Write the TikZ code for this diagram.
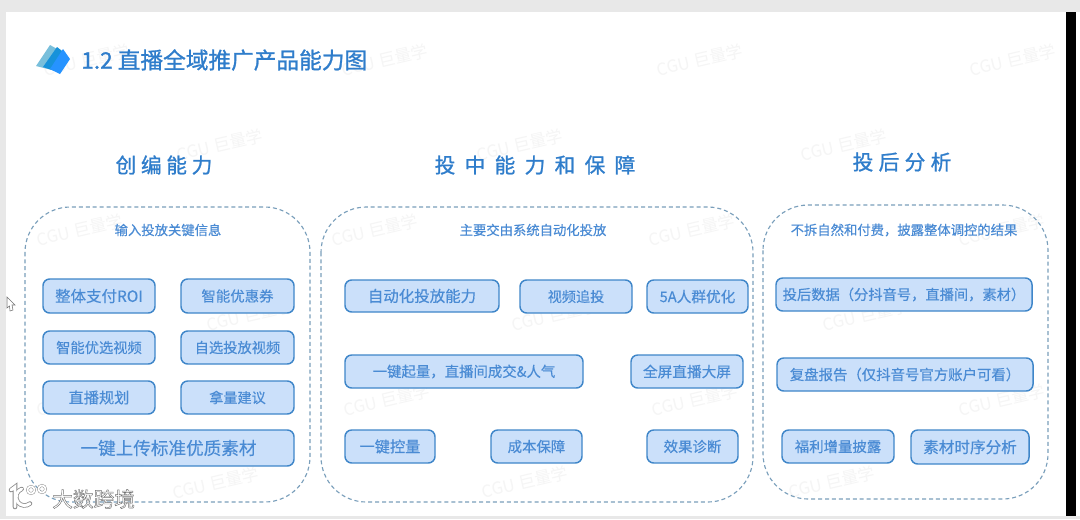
\documentclass[tikz,border=0pt]{standalone}
\usepackage{fontspec}
\setmainfont{Noto Sans CJK SC}[FakeBold=0.35]
\newfontfamily\wmfont{Noto Sans CJK SC}
\newfontfamily\strongfont{Noto Sans CJK SC}[FakeBold=1.1]
\newfontfamily\cornerfont{Noto Sans CJK SC}[FakeBold=2.2]
\definecolor{tcol}{HTML}{2F7DCB}
\definecolor{bfill}{HTML}{CBE0FA}
\definecolor{bline}{HTML}{3F86C9}
\definecolor{dashc}{HTML}{7A9FBB}
\definecolor{btext}{HTML}{4A8BD4}
\newcommand{\wm}[2]{\node[wmark] at (#1,-#2) {CGU 巨量学};}
\tikzset{
 x=0.75pt,y=0.75pt,
 wmark/.style={text=black!4,font=\wmfont\fontsize{12.5}{14}\selectfont,rotate=13,inner sep=0},
 capbox/.style={draw=bline,fill=bfill,line width=1.1pt,rounded corners=5pt},
 panel/.style={draw=dashc,line width=0.85pt,dash pattern=on 3pt off 2.2pt,rounded corners=34pt},
 headtxt/.style={text=tcol,font=\strongfont\fontsize{15.5}{18}\selectfont,inner sep=0},
 subtxt/.style={text=btext,font=\fontsize{10}{12}\selectfont,inner sep=0}
}
% name, x1, y1, x2, y2, font size, text
\newcommand{\cbox}[7]{\path[capbox] (#2,-#3) rectangle (#4,-#5) node[pos=.5,inner sep=0,text=btext,font=\fontsize{#6}{#6}\selectfont] (#1) {#7};}
\begin{document}
\begin{tikzpicture}
\useasboundingbox (0,0) rectangle (1080,-519);
\fill[black!9] (0,0) rectangle (1080,-519);
\fill[white] (1076,-12) rectangle (1080,-516);
\fill[black] (1066,-12) rectangle (1076,-516);
\fill[white] (6,-12) rectangle (1066,-516);
% watermarks
\wm{87}{60}\wm{385}{60}\wm{700}{60}\wm{1013}{60}
\wm{220}{145}\wm{520}{145}\wm{844}{145}
\wm{80}{230}\wm{375}{230}\wm{692}{230}\wm{1002}{230}
\wm{250}{315}\wm{555}{315}\wm{866}{315}
\wm{80}{400}\wm{387}{400}\wm{695}{400}\wm{1002}{400}
\wm{216}{483}\wm{525}{482}\wm{832}{482}
% cursor
\draw[black!55,fill=white,line width=0.4pt] (7,-297) -- (15,-305) -- (12,-305) -- (13,-310) -- (10,-311) -- (9.5,-306) -- (7,-308) -- cycle;
% logo
\fill[cyan!55!teal!60] (36,-66) -- (50,-45) -- (59,-50) -- (52,-70) -- cycle;
\fill[cyan!75!blue!95] (43,-67) -- (57,-47) -- (66,-54) -- (55,-71) -- cycle;
\fill[blue!50!cyan!85] (50,-69) -- (63,-49) -- (70,-59) -- (60,-74) -- cycle;
\node[anchor=west,inner sep=0,text=tcol,font=\strongfont\fontsize{17}{20}\selectfont] (title) at (81,-60) {1.2 直播全域推广产品能力图};
% headers
\node[headtxt] (h1) at (164,-165) {创\hspace{3.5pt}编\hspace{3.5pt}能\hspace{3.5pt}力};
\node[headtxt] (h2) at (535,-165) {投\hspace{7pt}中\hspace{7pt}能\hspace{7pt}力\hspace{7pt}和\hspace{7pt}保\hspace{7pt}障};
\node[headtxt] (h3) at (902,-162) {投\hspace{4pt}后\hspace{4pt}分\hspace{4pt}析};
% panels
\draw[panel] (25,-207) rectangle (310,-502);
\draw[panel] (321,-207) rectangle (753,-502);
\draw[panel] (763,-205) rectangle (1048,-499);
\node[subtxt] (s1) at (168,-230) {输入投放关键信息};
\node[subtxt] (s2) at (533,-230) {主要交由系统自动化投放};
\node[subtxt] (s3) at (904,-230) {不拆自然和付费，披露整体调控的结果};
% left
\cbox{a1}{43}{279}{155}{313}{11.6}{整体支付ROI}
\cbox{a2}{181}{279}{294}{313}{10.8}{智能优惠券}
\cbox{a3}{43}{331}{155}{364}{10.7}{智能优选视频}
\cbox{a4}{181}{331}{294}{364}{10.7}{自选投放视频}
\cbox{a5}{43}{381}{155}{414}{11.4}{直播规划}
\cbox{a6}{181}{381}{294}{414}{10.6}{拿量建议}
\cbox{a7}{43}{430}{294}{466}{13.2}{一键上传标准优质素材}
% middle
\cbox{b1}{345}{280}{499}{312}{11.6}{自动化投放能力}
\cbox{b2}{520}{280}{632}{313}{10.6}{视频追投}
\cbox{b3}{647}{280}{748}{313}{11}{5A人群优化}
\cbox{b4}{345}{355}{583}{388}{10.8}{一键起量，直播间成交\&人气}
\cbox{b5}{631}{355}{743}{388}{11}{全屏直播大屏}
\cbox{b6}{345}{430}{435}{463}{11.4}{一键控量}
\cbox{b7}{491}{430}{582}{463}{10.8}{成本保障}
\cbox{b8}{647}{430}{738}{463}{10.8}{效果诊断}
% right
\cbox{c1}{776}{278}{1032}{311}{10.7}{投后数据（分抖音号，直播间，素材）}
\cbox{c2}{777}{358}{1033}{391}{10.8}{复盘报告（仅抖音号官方账户可看）}
\cbox{c3}{782}{430}{894}{463}{10.8}{福利增量披露}
\cbox{c4}{911}{430}{1029}{464}{11.7}{素材时序分析}
% corner mark
\begin{scope}[line cap=round]
\foreach \w/\c in {3.4pt/black!45,2.2pt/white}{
 \draw[draw=\c,line width=\w] (11,-490) -- (15,-487) -- (15,-507);
 \draw[draw=\c,line width=\w] (30,-503.5) arc (-50:-250:8.5);
 \draw[draw=\c,line width=\w*0.6] (31,-490) circle (3.6);
 \draw[draw=\c,line width=\w*0.6] (42,-489) circle (3.6);
}
\end{scope}
\node[anchor=west,inner sep=0,text=white,font=\cornerfont\fontsize{15.5}{18}\selectfont] (wm) at (52,-499) {\special{pdf:code 0.45 0.45 0.45 RG}大数跨境};
\end{tikzpicture}
\end{document}
